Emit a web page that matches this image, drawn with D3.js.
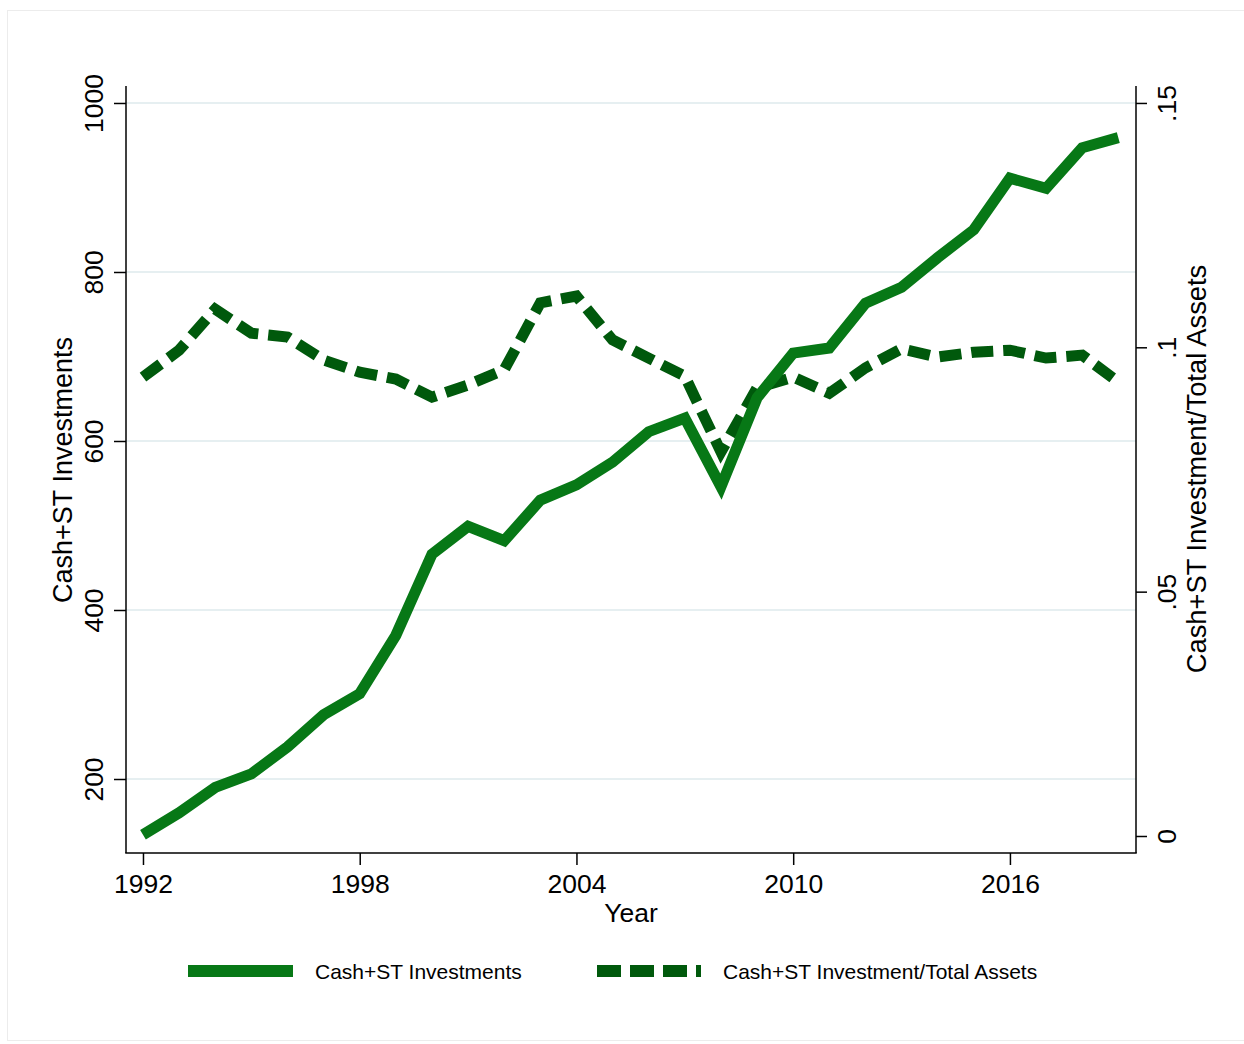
<!DOCTYPE html>
<html>
<head>
<meta charset="utf-8">
<script src="https://cdn.jsdelivr.net/npm/d3@7"></script>
<style>
  body { margin: 0; background: #fff; }
  text { font-family: "Liberation Sans", Arial, sans-serif; fill: #000; }
</style>
</head>
<body>
<svg id="chart"></svg>
<script>
const svgWidth = 1244;
const svgHeight = 1044;

// data
const years = d3.range(1992, 2020);
const cashST = [134, 160, 190, 206, 238, 276, 301, 370, 466, 499, 482, 530, 548, 575,
  611, 627, 546, 651, 704, 710, 763, 782, 817, 850, 911, 899, 947, 959];
const cashRatio = [0.0939, 0.0994, 0.1078, 0.1029, 0.1021, 0.0974, 0.0949, 0.0935, 0.0898,
  0.0923, 0.0954, 0.1091, 0.1105, 0.1015, 0.0978, 0.0941, 0.0786, 0.0917, 0.0939, 0.0906,
  0.0958, 0.0997, 0.0980, 0.0990, 0.0994, 0.0978, 0.0984, 0.0929];
const xTicks = [1992, 1998, 2004, 2010, 2016];
const leftTicks = [200, 400, 600, 800, 1000];
const rightTicks = [0, 0.05, 0.1, 0.15];
const rightTickLabels = ["0", ".05", ".1", ".15"];
const seriesNames = ["Cash+ST Investments", "Cash+ST Investment/Total Assets"];

const solidColor = "#077816";
const dashColor = "#00590c";
const gridColor = "#e6eff1";

const plot = {left: 126, right: 1136, top: 86, bottom: 853};

let svg = d3.select("#chart")
  .attr("width", svgWidth)
  .attr("height", svgHeight);

// faint outer frame
svg.append("rect")
  .attr("x", 7.5).attr("y", 10.5)
  .attr("width", 1240).attr("height", 1030)
  .attr("fill", "none")
  .attr("stroke", "#ececec");

const x = d3.scaleLinear().domain([1991.53, 2019.49]).range([plot.left, plot.right]);
const yLeft = d3.scaleLinear().domain([112.43, 1020.1]).range([plot.bottom, plot.top]);
const yRight = d3.scaleLinear().domain([-0.00348, 0.15347]).range([plot.bottom, plot.top]);

// gridlines
svg.append("g")
  .selectAll("line")
  .data(leftTicks)
  .join("line")
  .attr("x1", plot.left).attr("x2", plot.right)
  .attr("y1", d => yLeft(d)).attr("y2", d => yLeft(d))
  .attr("stroke", gridColor)
  .attr("stroke-width", 2);

// lines
const lineLeft = d3.line().x((d, i) => x(years[i])).y(d => yLeft(d));
const lineRight = d3.line().x((d, i) => x(years[i])).y(d => yRight(d));

svg.append("path")
  .attr("d", lineRight(cashRatio))
  .attr("fill", "none")
  .attr("stroke", dashColor)
  .attr("stroke-width", 11)
  .attr("stroke-dasharray", "22,10")
  .attr("stroke-linejoin", "miter");

svg.append("path")
  .attr("d", lineLeft(cashST))
  .attr("fill", "none")
  .attr("stroke", solidColor)
  .attr("stroke-width", 11)
  .attr("stroke-linejoin", "miter");

// axes
const axisStyle = function (g) {
  g.select(".domain").remove();
  g.selectAll(".tick line").attr("stroke", "#000").attr("stroke-width", 1.5);
};

svg.append("line")
  .attr("x1", plot.left).attr("x2", plot.left)
  .attr("y1", plot.top).attr("y2", plot.bottom)
  .attr("stroke", "#000").attr("stroke-width", 1.5);
svg.append("line")
  .attr("x1", plot.right).attr("x2", plot.right)
  .attr("y1", plot.top).attr("y2", plot.bottom)
  .attr("stroke", "#000").attr("stroke-width", 1.5);
svg.append("line")
  .attr("x1", plot.left - 0.75).attr("x2", plot.right + 0.75)
  .attr("y1", plot.bottom).attr("y2", plot.bottom)
  .attr("stroke", "#000").attr("stroke-width", 1.5);

svg.append("g")
  .attr("transform", `translate(0,${plot.bottom})`)
  .call(d3.axisBottom(x).tickValues(xTicks).tickFormat(d3.format("d")).tickSize(12).tickPadding(9))
  .call(axisStyle)
  .call(g => g.selectAll(".tick text").attr("font-size", 26.5).attr("font-family", null));

// left y ticks, labels rotated
let gl = svg.append("g")
  .attr("transform", `translate(${plot.left},0)`)
  .call(d3.axisLeft(yLeft).tickValues(leftTicks).tickFormat(d3.format("d")).tickSize(12))
  .call(axisStyle);
gl.selectAll(".tick text")
  .attr("font-size", 26.5).attr("font-family", null)
  .attr("transform", "translate(-23,0) rotate(-90)")
  .attr("x", 0).attr("y", 0).attr("dy", 0)
  .attr("text-anchor", "middle");

let gr = svg.append("g")
  .attr("transform", `translate(${plot.right},0)`)
  .call(d3.axisRight(yRight).tickValues(rightTicks).tickSize(11)
    .tickFormat((d, i) => rightTickLabels[i]))
  .call(axisStyle);
gr.selectAll(".tick text")
  .attr("font-size", 26.5).attr("font-family", null)
  .attr("transform", "translate(40,0) rotate(-90)")
  .attr("x", 0).attr("y", 0).attr("dy", 0)
  .attr("text-anchor", "middle");

// axis titles
svg.append("text")
  .attr("x", 631).attr("y", 922)
  .attr("text-anchor", "middle")
  .attr("font-size", 26.5)
  .text("Year");

svg.append("text")
  .attr("transform", "translate(72,470) rotate(-90)")
  .attr("text-anchor", "middle")
  .attr("font-size", 27)
  .text("Cash+ST Investments");

svg.append("text")
  .attr("transform", "translate(1206,469) rotate(-90)")
  .attr("text-anchor", "middle")
  .attr("font-size", 27.3)
  .text("Cash+ST Investment/Total Assets");

// legend
let legend = svg.append("g");
legend.append("line")
  .attr("x1", 188).attr("x2", 293).attr("y1", 971).attr("y2", 971)
  .attr("stroke", solidColor).attr("stroke-width", 12);
legend.append("text")
  .attr("x", 315).attr("y", 979).attr("font-size", 21)
  .text(seriesNames[0]);
legend.append("line")
  .attr("x1", 597).attr("x2", 701).attr("y1", 971).attr("y2", 971)
  .attr("stroke", dashColor).attr("stroke-width", 12)
  .attr("stroke-dasharray", "24,9");
legend.append("text")
  .attr("x", 723).attr("y", 979).attr("font-size", 21)
  .text(seriesNames[1]);
</script>
</body>
</html>
